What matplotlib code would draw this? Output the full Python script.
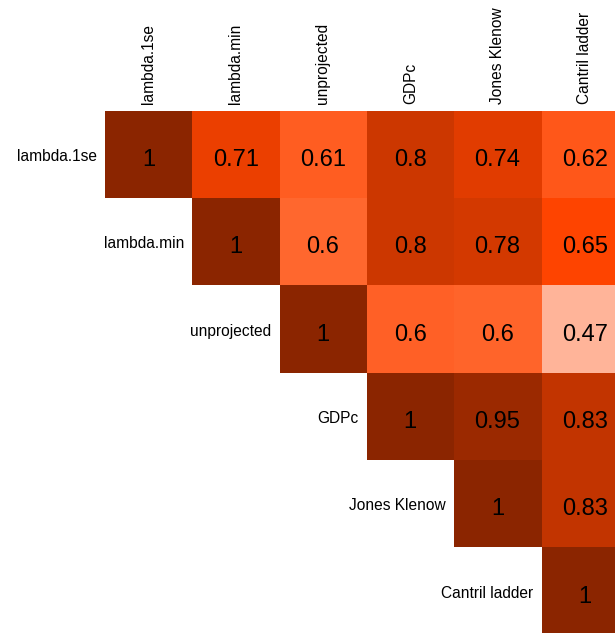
import numpy as np
import matplotlib
matplotlib.use("Agg")
import matplotlib.pyplot as plt
from matplotlib.colors import LinearSegmentedColormap, Normalize

labels = ['lambda.1se', 'lambda.min', 'unprojected', 'GDPc', 'Jones Klenow', 'Cantril ladder']
row0 = [1.0, 0.71, 0.61, 0.80, 0.74, 0.62]
row1 = [1.0, 0.596, 0.80, 0.78, 0.65]
row2 = [1.0, 0.604, 0.60, 0.47]
row3 = [1.0, 0.95, 0.83]
row4 = [1.0, 0.83]
row5 = [1.0]
rows = [row0, row1, row2, row3, row4, row5]

n = len(labels)
M = np.full((n, n), np.nan)
for i, r in enumerate(rows):
    for k, v in enumerate(r):
        M[i, i + k] = v

plt.rcParams['font.family'] = ['Liberation Sans', 'DejaVu Sans']

cmap = LinearSegmentedColormap.from_list(
    'orr', [(0.0, '#FFFFFF'), (0.4615, '#FF4500'), (1.0, '#8B2500')])
norm = Normalize(vmin=0.35, vmax=1.0)
# 0.35 -> white, 0.65 -> orangered, 1.0 -> orangered4

fig = plt.figure(figsize=(6.15, 6.33), dpi=100)
W, H = 615, 633
x0, y0, cs = 104.7, 111.4, 87.3
ax = fig.add_axes([x0 / W, (H - (y0 + n * cs)) / H, n * cs / W, n * cs / H])
masked = np.ma.masked_invalid(M)
ax.imshow(masked, cmap=cmap, norm=norm, aspect='auto', interpolation='nearest')
ax.set_xlim(-0.5, n - 0.5)
ax.set_ylim(n - 0.5, -0.5)
ax.axis('off')

for i in range(n):
    for j in range(i, n):
        v = M[i, j]
        s = f"{round(v, 2):.2f}".rstrip('0').rstrip('.')
        ax.annotate(s, xy=(j, i), xytext=(0, -1.8), textcoords='offset points',
                    ha='center', va='center_baseline', fontsize=17, color='black')

for i, lab in enumerate(labels):
    ax.annotate(lab, xy=(i - 0.5, i), xytext=(-5.6, 0), textcoords='offset points',
                ha='right', va='center_baseline', fontsize=11.2, color='black',
                annotation_clip=False)
    ax.annotate(lab, xy=(i, -0.5), xytext=(0, 5.0), textcoords='offset points',
                ha='center', va='bottom', rotation=90, fontsize=11.2, color='black',
                annotation_clip=False)

fig.savefig('out.png', dpi=100)
